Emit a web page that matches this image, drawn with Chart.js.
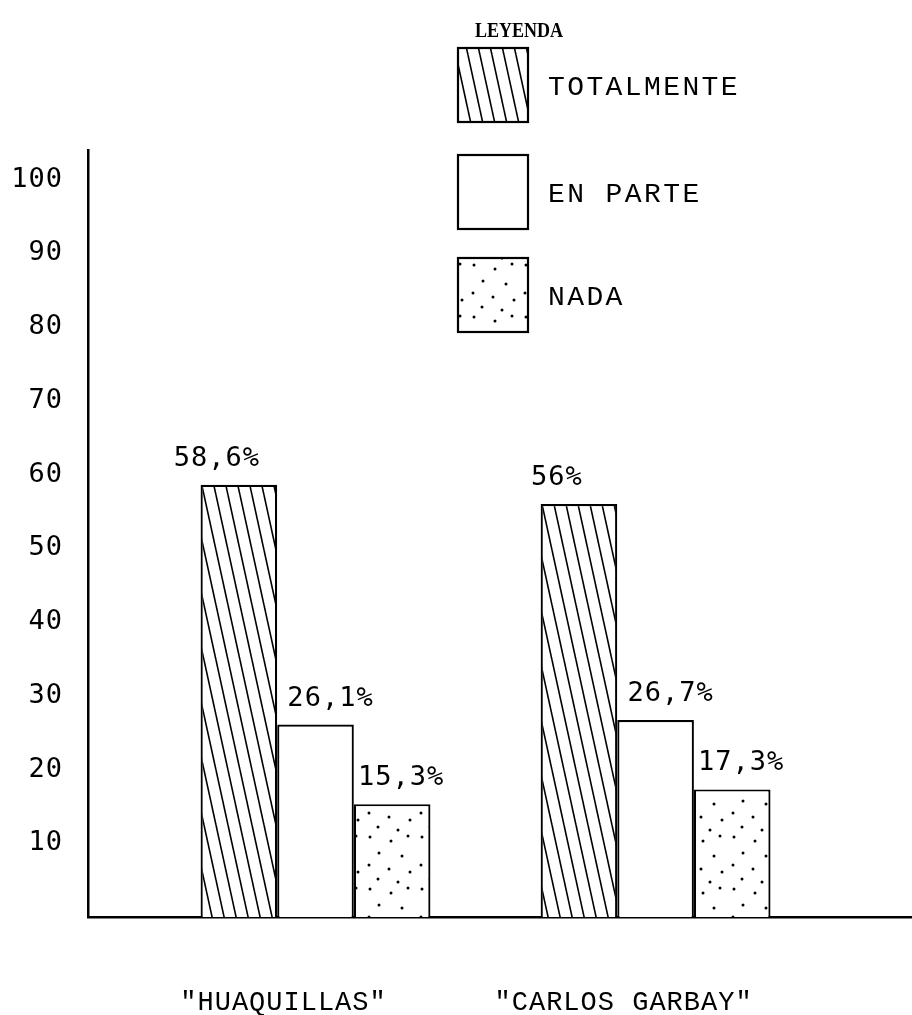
<!DOCTYPE html>
<html>
<head>
<meta charset="utf-8">
<style>
  html, body { margin: 0; padding: 0; background: #fff; }
  canvas { display: block; }
</style>
<script src="https://cdn.jsdelivr.net/npm/chart.js@4.4.1/dist/chart.umd.min.js"></script>
</head>
<body>
<canvas id="encuesta" width="912" height="1015"></canvas>
<script>
// datos
const categories = ['"HUAQUILLAS"', '"CARLOS GARBAY"'];
const seriesNames = ['TOTALMENTE', 'EN PARTE', 'NADA'];
const totalmente = [58.6, 56];
const enParte = [26.1, 26.7];
const nada = [15.3, 17.3];
const yTicks = [10, 20, 30, 40, 50, 60, 70, 80, 90, 100];

function makeHatch() {
    const c = document.createElement('canvas');
    c.width = 12; c.height = 55;
    const g = c.getContext('2d');
    g.fillStyle = '#fff';
    g.fillRect(0, 0, 12, 55);
    g.strokeStyle = '#000';
    g.lineWidth = 1.6;
    [-12, 0, 12].forEach(function (dx) {
        g.beginPath();
        g.moveTo(dx, 0);
        g.lineTo(dx + 12, 55);
        g.stroke();
    });
    return g.createPattern(c, 'repeat');
}

function makeDots() {
    const c = document.createElement('canvas');
    c.width = 52; c.height = 52;
    const g = c.getContext('2d');
    g.fillStyle = '#fff';
    g.fillRect(0, 0, 52, 52);
    g.fillStyle = '#000';
    const pts = [[6, 5], [27, 9], [44, 4], [15, 21], [38, 24], [5, 33], [25, 37], [46, 40], [14, 47], [34, 50]];
    pts.forEach(function (p) {
        g.beginPath();
        g.arc(p[0], p[1], 1.5, 0, Math.PI * 2);
        g.fill();
    });
    return g.createPattern(c, 'repeat');
}

const fills = [makeHatch(), '#ffffff', makeDots()];
const series = [totalmente, enParte, nada];
const labelShift = [-22, 15, 9];

function toPoints(values) {
    return values.map((v, i) => ({ x: i, y: v }));
}

const labelPlugin = {
    id: 'etiquetas',
    beforeDraw: function (chart) {
        chart.ctx.letterSpacing = '1px';
    },
    afterDatasetsDraw: function (chart) {
        const ctx = chart.ctx;
        ctx.save();
        ctx.letterSpacing = '1px';
        ctx.font = '27px "DejaVu Sans Mono"';
        ctx.fillStyle = '#000';
        ctx.textAlign = 'center';
        ctx.textBaseline = 'middle';
        chart.data.datasets.forEach(function (ds, di) {
            chart.getDatasetMeta(di).data.forEach(function (bar, i) {
                const txt = String(series[di][i]).replace('.', ',') + '%';
                ctx.fillText(txt, bar.x + labelShift[di], bar.y - 26);
            });
        });
        ctx.restore();
    },
    afterDraw: function (chart) {
        const ctx = chart.ctx;
        ctx.save();
        ctx.fillStyle = '#000';
        ctx.letterSpacing = '0px';
        // titulo de la leyenda, un poco comprimido
        ctx.save();
        ctx.translate(519, 31);
        ctx.scale(0.82, 1);
        ctx.font = 'bold 22px "Liberation Serif"';
        ctx.textAlign = 'center';
        ctx.textBaseline = 'middle';
        ctx.fillText('LEYENDA', 0, 0);
        ctx.restore();

        const boxTops = [48, 155, 258];
        ctx.letterSpacing = '2.4px';
        ctx.font = '28px "Liberation Mono"';
        ctx.textAlign = 'left';
        ctx.textBaseline = 'middle';
        chart.data.datasets.forEach(function (ds, di) {
            const top = boxTops[di];
            ctx.fillStyle = ds.backgroundColor;
            ctx.fillRect(458, top, 70, 74);
            ctx.lineWidth = 2.2;
            ctx.strokeStyle = '#000';
            ctx.strokeRect(458, top, 70, 74);
            ctx.fillStyle = '#000';
            ctx.fillText(ds.label, 548, top + 40);
        });
        ctx.restore();
        ctx.letterSpacing = '0px';
    }
};

new Chart(document.getElementById('encuesta').getContext('2d'), {
    type: 'bar',
    data: {
        datasets: series.map(function (vals, i) {
            return {
                label: seriesNames[i],
                data: toPoints(vals),
                backgroundColor: fills[i],
                borderColor: '#000',
                borderWidth: 2.2,
                categoryPercentage: 0.676,
                barPercentage: 1.0
            };
        })
    },
    options: {
        responsive: false,
        animation: false,
        devicePixelRatio: 1,
        layout: { padding: { top: 150, right: 0, left: 0, bottom: 0 } },
        plugins: {
            legend: { display: false },
            tooltip: { enabled: false }
        },
        scales: {
            x: {
                type: 'linear',
                offset: false,
                min: -0.669,
                max: 1.754,
                grid: { display: false, offset: false },
                border: { color: '#000', width: 2.5 },
                afterBuildTicks: function (scale) {
                    scale.ticks = categories.map((c, i) => ({ value: i }));
                },
                afterFit: function (scale) { scale.height = 98; },
                ticks: {
                    autoSkip: false,
                    maxRotation: 0,
                    padding: 62,
                    labelOffset: -32,
                    color: '#000',
                    font: { family: '"Liberation Mono"', size: 27 },
                    callback: function (value, index) { return categories[index]; }
                }
            },
            y: {
                min: 0,
                max: 104,
                grid: { display: false },
                border: { color: '#000', width: 2.5 },
                afterBuildTicks: function (scale) {
                    scale.ticks = yTicks.map(v => ({ value: v }));
                },
                afterFit: function (scale) { scale.width = 88; },
                ticks: {
                    padding: 17,
                    color: '#000',
                    font: { family: '"DejaVu Sans Mono"', size: 27 }
                }
            }
        }
    },
    plugins: [labelPlugin]
});
</script>
</body>
</html>
